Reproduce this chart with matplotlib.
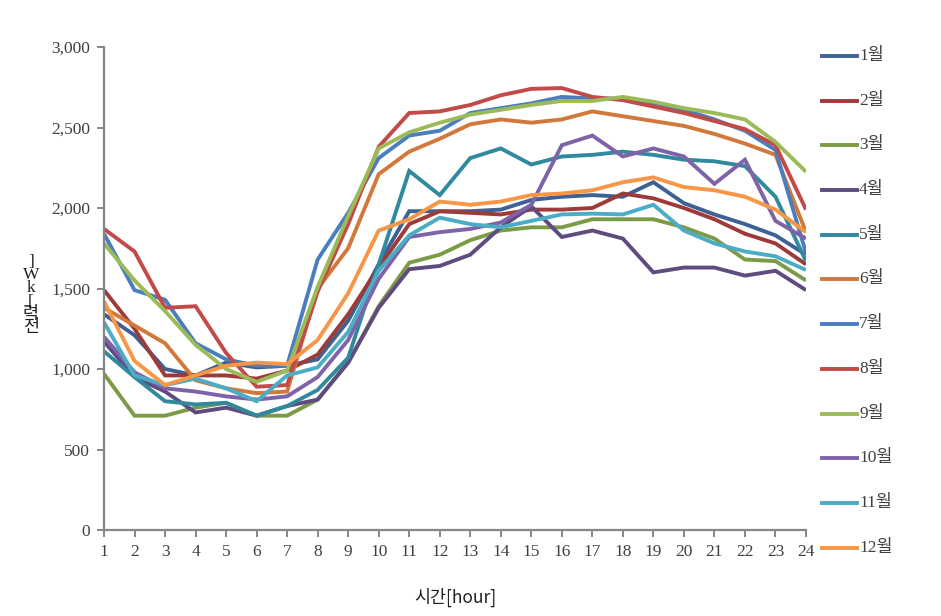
import matplotlib
matplotlib.use("Agg")
import matplotlib.pyplot as plt
from matplotlib.lines import Line2D
from matplotlib.ticker import FuncFormatter, MultipleLocator

hours = list(range(1, 25))
months = ["1월", "2월", "3월", "4월", "5월", "6월", "7월", "8월", "9월", "10월", "11월", "12월"]

m01 = [1340, 1210, 1000, 960, 1040, 1010, 1020, 1060, 1300, 1650, 1980, 1980, 1980, 1990, 2050, 2070, 2080, 2070, 2160, 2030, 1960, 1900, 1830, 1710]
m02 = [1490, 1250, 960, 960, 960, 940, 990, 1090, 1340, 1630, 1900, 1980, 1970, 1960, 1990, 1990, 2000, 2090, 2060, 2000, 1930, 1840, 1780, 1650]
m03 = [970, 710, 710, 760, 790, 710, 710, 810, 1040, 1390, 1660, 1710, 1800, 1860, 1880, 1880, 1930, 1930, 1930, 1880, 1810, 1680, 1670, 1550]
m04 = [1170, 950, 860, 730, 760, 710, 770, 810, 1040, 1380, 1620, 1640, 1710, 1880, 2010, 1820, 1860, 1810, 1600, 1630, 1630, 1580, 1610, 1490]
m05 = [1110, 950, 800, 780, 790, 710, 770, 870, 1070, 1650, 2230, 2080, 2310, 2370, 2270, 2320, 2330, 2350, 2330, 2300, 2290, 2260, 2070, 1670]
m06 = [1380, 1270, 1160, 930, 880, 850, 860, 1500, 1750, 2210, 2350, 2430, 2520, 2550, 2530, 2550, 2600, 2570, 2540, 2510, 2460, 2400, 2330, 1850]
m07 = [1840, 1490, 1430, 1160, 1060, 1020, 1020, 1680, 1970, 2310, 2450, 2480, 2590, 2620, 2650, 2690, 2680, 2680, 2650, 2610, 2550, 2480, 2360, 1720]
m08 = [1870, 1730, 1380, 1390, 1100, 890, 900, 1480, 1900, 2380, 2590, 2600, 2640, 2700, 2740, 2745, 2690, 2670, 2630, 2590, 2540, 2490, 2390, 1990]
m09 = [1780, 1550, 1360, 1150, 1000, 920, 990, 1510, 1950, 2370, 2470, 2530, 2580, 2610, 2640, 2665, 2665, 2690, 2660, 2620, 2590, 2550, 2410, 2225]
m10 = [1200, 980, 880, 860, 830, 810, 830, 950, 1180, 1560, 1820, 1850, 1870, 1910, 2020, 2390, 2450, 2320, 2370, 2320, 2150, 2300, 1920, 1810]
m11 = [1290, 960, 900, 940, 880, 800, 960, 1010, 1230, 1610, 1830, 1940, 1900, 1880, 1920, 1960, 1965, 1960, 2020, 1860, 1780, 1730, 1700, 1615]
m12 = [1420, 1050, 900, 960, 1020, 1040, 1030, 1180, 1470, 1860, 1930, 2040, 2020, 2040, 2080, 2090, 2110, 2160, 2190, 2130, 2110, 2070, 1990, 1850]

series = [m01, m02, m03, m04, m05, m06, m07, m08, m09, m10, m11, m12]
colors = ["#3D6194", "#9E3A38", "#7B9B47", "#5F4B80", "#31899E", "#D2783A",
          "#4A7EBF", "#C24A48", "#9BBB59", "#7F63A8", "#4BACC6", "#F79646"]

serif = ["Liberation Serif", "Noto Sans CJK KR"]
tick_color = "#404040"
axis_color = "#868686"

W, H = 941, 616
fig = plt.figure(figsize=(W / 100, H / 100), dpi=100)
ax = fig.add_axes([104 / W, 1 - 530 / H, (806 - 104) / W, (530 - 47) / H])

for vals, c in zip(series, colors):
    ax.plot(hours, vals, color=c, lw=2.8, solid_joinstyle="miter", solid_capstyle="butt")

ax.set_xlim(1, 24)
ax.set_ylim(0, 3000)
ax.set_xticks(hours)
ax.yaxis.set_major_locator(MultipleLocator(500))
ax.yaxis.set_major_formatter(FuncFormatter(lambda v, p: f"{int(v):,}"))

for s in ["top", "right"]:
    ax.spines[s].set_visible(False)
for s in ["left", "bottom"]:
    ax.spines[s].set_color(axis_color)
    ax.spines[s].set_linewidth(1.6)
ax.tick_params(axis="both", direction="out", length=5, width=1.4, color=axis_color,
               labelcolor=tick_color, labelsize=12.5, pad=5)
for lab in ax.get_xticklabels() + ax.get_yticklabels():
    lab.set_family(serif)

ax.set_xlabel("시간[hour]", fontsize=12.5, family=["Noto Sans CJK KR"], color="#202020", labelpad=20)

# y label: characters stacked upright, reading bottom-to-top
ylabel = "전력[kW]"
fig.text(31 / W, 1 - 295 / H, "\n".join(reversed(ylabel)), ha="center", va="center",
         fontsize=12.5, family=serif, color="#202020", linespacing=0.78)

# legend
for i, (lab, c) in enumerate(zip(months, colors)):
    yp = 1 - (56 + i * 44.7) / H
    fig.add_artist(Line2D([822 / W, 857 / W], [yp, yp], color=c, lw=2.8,
                          transform=fig.transFigure))
    fig.text(859 / W, yp, lab, ha="left", va="center", fontsize=12.5,
             family=serif, color=tick_color)

fig.savefig("out.png", dpi=100)
